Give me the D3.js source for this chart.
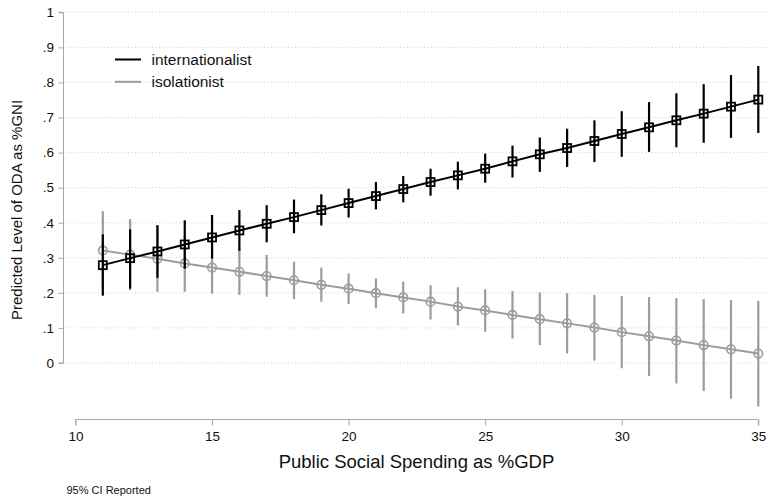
<!DOCTYPE html>
<html>
<head>
<meta charset="utf-8">
<script src="https://cdn.jsdelivr.net/npm/d3@7"></script>
<style>
  html, body { margin: 0; padding: 0; background: #fff; }
  svg { display: block; font-family: "Liberation Sans", Arial, Helvetica, sans-serif; }
</style>
</head>
<body>
<svg id="chart" width="768" height="499"></svg>
<script>
// Social spending levels at which predictions are evaluated
const spending = [11, 12, 13, 14, 15, 16, 17, 18, 19, 20, 21, 22, 23, 24, 25,
                  26, 27, 28, 29, 30, 31, 32, 33, 34, 35];

// Internationalist: predicted ODA and 95% CI
const intlMean = [.279, .299, .318, .338, .358, .378, .397, .416, .436, .456, .476, .496, .516,
                  .535, .554, .575, .595, .613, .633, .653, .672, .692, .711, .731, .751];
const intlLow  = [.192, .212, .243, .269, .298, .320, .344, .370, .392, .415, .438, .458, .477,
                  .495, .514, .529, .545, .559, .573, .588, .602, .615, .628, .642, .656];
const intlHigh = [.367, .381, .393, .407, .422, .436, .450, .466, .481, .497, .516, .533, .554,
                  .574, .597, .620, .643, .668, .692, .718, .744, .769, .795, .821, .847];

// Isolationist: predicted ODA and 95% CI
const isoMean = [.321, .309, .297, .284, .272, .260, .248, .236, .223, .212, .199, .187, .175,
                 .161, .150, .137, .125, .113, .101, .088, .076, .064, .051, .039, .027];
const isoLow  = [.209, .208, .203, .203, .198, .194, .189, .182, .175, .168, .156, .141, .124,
                 .107, .089, .070, .051, .027, .007, -.015, -.037, -.058, -.080, -.102, -.124];
const isoHigh = [.433, .410, .391, .365, .346, .326, .308, .289, .272, .255, .241, .232, .222,
                 .216, .210, .205, .201, .199, .194, .191, .188, .185, .182, .179, .177];

const xTicks = [10, 15, 20, 25, 30, 35];
const yTicks = [0, .1, .2, .3, .4, .5, .6, .7, .8, .9, 1];
const yTickLabels = ["0", ".1", ".2", ".3", ".4", ".5", ".6", ".7", ".8", ".9", "1"];

const seriesNames = ["internationalist", "isolationist"];

const svg = d3.select("#chart");
const AXIS = "#a8a8a8";
const GRAY = "#9c9c9c";

const x = d3.scaleLinear().domain([10, 35]).range([75.5, 758.3]);
const y = d3.scaleLinear().domain([0, 1]).range([363, 12.3]);

// Dotted horizontal gridlines
svg.append("g").selectAll("line").data(yTicks).join("line")
  .attr("x1", 67).attr("x2", 768)
  .attr("y1", d => y(d)).attr("y2", d => y(d))
  .attr("stroke", "#cfcfcf").attr("stroke-width", 1)
  .attr("stroke-dasharray", "1,2.4");

// Y axis
const yAxis = svg.append("g").attr("transform", "translate(63.5,0)")
  .call(d3.axisLeft(y).tickValues(yTicks).tickSize(5).tickPadding(4.5)
        .tickFormat((d, i) => yTickLabels[i]));
yAxis.select(".domain").attr("stroke", AXIS).attr("d", `M-5,${y(0)}H0V${y(1)}H-5`);
yAxis.selectAll(".tick line").attr("stroke", AXIS);
yAxis.selectAll(".tick text").attr("font-size", 13.5).attr("fill", "#111")
  .attr("font-family", "Liberation Sans, Arial, sans-serif");

// X axis
const xAxis = svg.append("g").attr("transform", "translate(0,419.5)")
  .call(d3.axisBottom(x).tickValues(xTicks).tickSize(6).tickPadding(6));
xAxis.select(".domain").attr("stroke", AXIS).attr("d", `M${x(10)},6V0H${x(35)}V6`);
xAxis.selectAll(".tick line").attr("stroke", AXIS);
xAxis.selectAll(".tick text").attr("font-size", 13.5).attr("fill", "#111")
  .attr("font-family", "Liberation Sans, Arial, sans-serif");

// Axis titles
svg.append("text")
  .attr("transform", "translate(22,210) rotate(-90)")
  .attr("text-anchor", "middle").attr("font-size", 15).attr("fill", "#111")
  .text("Predicted Level of ODA as %GNI");
svg.append("text")
  .attr("x", 416.5).attr("y", 468)
  .attr("text-anchor", "middle").attr("font-size", 18.5).attr("fill", "#111")
  .text("Public Social Spending as %GDP");
svg.append("text")
  .attr("x", 66.5).attr("y", 494)
  .attr("font-size", 11).attr("fill", "#111")
  .text("95% CI Reported");

function drawSeries(mean, low, high, color, marker) {
  const g = svg.append("g");
  const pts = spending.map((s, i) => ({ s, m: mean[i], lo: low[i], hi: high[i] }));
  // CI bars
  g.selectAll("line.ci").data(pts).join("line").attr("class", "ci")
    .attr("x1", d => x(d.s)).attr("x2", d => x(d.s))
    .attr("y1", d => y(d.lo)).attr("y2", d => y(d.hi))
    .attr("stroke", color).attr("stroke-width", 2.2);
  // Connecting line
  g.append("path").datum(pts)
    .attr("d", d3.line().x(d => x(d.s)).y(d => y(d.m)))
    .attr("fill", "none").attr("stroke", color).attr("stroke-width", 2);
  // Hollow markers
  if (marker === "square") {
    const side = 8;
    g.selectAll("rect").data(pts).join("rect")
      .attr("x", d => x(d.s) - side / 2).attr("y", d => y(d.m) - side / 2)
      .attr("width", side).attr("height", side)
      .attr("fill", "none").attr("stroke", color).attr("stroke-width", 1.8);
  } else {
    g.selectAll("circle").data(pts).join("circle")
      .attr("cx", d => x(d.s)).attr("cy", d => y(d.m)).attr("r", 4.3)
      .attr("fill", "none").attr("stroke", color).attr("stroke-width", 1.6);
  }
}

drawSeries(isoMean, isoLow, isoHigh, GRAY, "circle");
drawSeries(intlMean, intlLow, intlHigh, "#000", "square");

// Legend
const legend = svg.append("g");
const legendColors = ["#000", GRAY];
seriesNames.forEach((name, i) => {
  const ly = 59.5 + i * 22.3;
  legend.append("line")
    .attr("x1", 115).attr("x2", 141).attr("y1", ly).attr("y2", ly)
    .attr("stroke", legendColors[i]).attr("stroke-width", 2);
  legend.append("text")
    .attr("x", 151.5).attr("y", ly + 5.5)
    .attr("font-size", 15.5).attr("fill", "#111")
    .text(name);
});
</script>
</body>
</html>
